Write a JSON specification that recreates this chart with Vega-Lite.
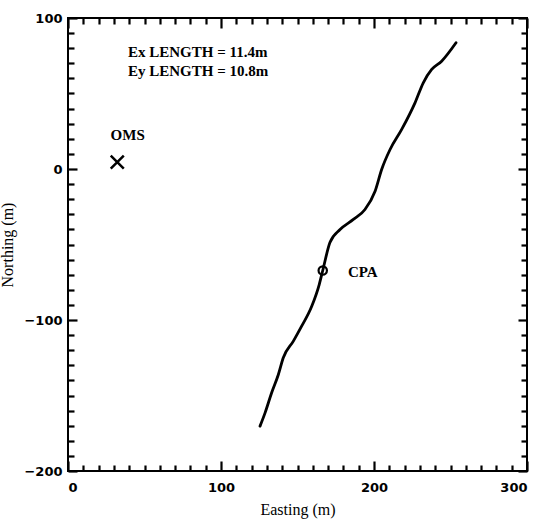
{
  "$schema": "https://vega.github.io/schema/vega-lite/v6.json",
  "width": 459,
  "height": 453,
  "autosize": {"type": "none"},
  "padding": {"left": 68, "top": 18, "right": 15, "bottom": 50},
  "background": "white",
  "config": {
    "view": {"stroke": "black", "strokeWidth": 2},
    "axis": {
      "grid": false,
      "domain": false,
      "tickColor": "black",
      "tickWidth": 2.2,
      "labelFont": "DejaVu Sans",
      "labelFontWeight": "bold",
      "labelFontSize": 13,
      "labelColor": "black",
      "titleFont": "Liberation Serif",
      "titleFontWeight": "normal",
      "titleFontSize": 16,
      "titleColor": "black"
    }
  },
  "layer": [
    {
      "data": {"values": [
        {"i": 1, "e": 125.5, "n": -170.3},
        {"i": 2, "e": 128.8, "n": -161.5},
        {"i": 3, "e": 133.1, "n": -148.2},
        {"i": 4, "e": 137.5, "n": -136.1},
        {"i": 5, "e": 140.7, "n": -125.0},
        {"i": 6, "e": 147.3, "n": -114.0},
        {"i": 7, "e": 152.7, "n": -104.1},
        {"i": 8, "e": 159.3, "n": -90.9},
        {"i": 9, "e": 164.2, "n": -76.5},
        {"i": 10, "e": 166.5, "n": -67.2},
        {"i": 11, "e": 171.2, "n": -48.7},
        {"i": 12, "e": 177.8, "n": -40.1},
        {"i": 13, "e": 186.5, "n": -33.4},
        {"i": 14, "e": 194.1, "n": -26.8},
        {"i": 15, "e": 200.7, "n": -14.7},
        {"i": 16, "e": 205.0, "n": -0.3},
        {"i": 17, "e": 210.5, "n": 12.9},
        {"i": 18, "e": 218.1, "n": 26.2},
        {"i": 19, "e": 226.8, "n": 43.8},
        {"i": 20, "e": 232.2, "n": 57.1},
        {"i": 21, "e": 237.7, "n": 65.9},
        {"i": 22, "e": 244.2, "n": 71.4},
        {"i": 23, "e": 253.6, "n": 83.6}
      ]},
      "mark": {"type": "line", "color": "black", "strokeWidth": 2.8, "strokeCap": "round", "strokeJoin": "round", "interpolate": "monotone"},
      "encoding": {
        "x": {"field": "e", "type": "quantitative",
              "scale": {"domain": [0, 300], "nice": false, "zero": false},
              "axis": {"orient": "bottom", "tickCount": 100,
                       "values": [0,10,20,30,40,50,60,70,80,90,100,110,120,130,140,150,160,170,180,190,200,210,220,230,240,250,260,270,280,290,300],
                       "tickSize": {"condition": {"test": "datum.value % 100 === 0", "value": -10}, "value": -6},
                       "labelExpr": "datum.value % 100 === 0 ? datum.label : ''",
                       "labelPadding": 20, "labelOverlap": false,
                       "title": "Easting (m)", "titlePadding": 3}},
        "y": {"field": "n", "type": "quantitative",
              "scale": {"domain": [-200, 100], "nice": false, "zero": false},
              "axis": {"orient": "left", "tickCount": 100,
                       "values": [-200,-190,-180,-170,-160,-150,-140,-130,-120,-110,-100,-90,-80,-70,-60,-50,-40,-30,-20,-10,0,10,20,30,40,50,60,70,80,90,100],
                       "tickSize": {"condition": {"test": "datum.value % 100 === 0", "value": -9}, "value": -6},
                       "labelExpr": "datum.value % 100 === 0 ? datum.label : ''",
                       "labelPadding": 15, "labelOverlap": false,
                       "title": "Northing (m)", "titlePadding": 8}},
        "order": {"field": "i", "type": "quantitative"}
      }
    },
    {
      "data": {"values": [{"e": 166.5, "n": -67.2}]},
      "mark": {"type": "point", "shape": "circle", "filled": false, "stroke": "black", "strokeWidth": 2.2, "size": 70, "opacity": 1},
      "encoding": {
        "x": {"field": "e", "type": "quantitative",
              "axis": {"orient": "top", "tickCount": 100,
                       "values": [0,10,20,30,40,50,60,70,80,90,100,110,120,130,140,150,160,170,180,190,200,210,220,230,240,250,260,270,280,290,300],
                       "tickSize": {"condition": {"test": "datum.value % 100 === 0", "value": -10}, "value": -6},
                       "labels": false, "title": null}},
        "y": {"field": "n", "type": "quantitative",
              "axis": {"orient": "right", "tickCount": 100,
                       "values": [-200,-190,-180,-170,-160,-150,-140,-130,-120,-110,-100,-90,-80,-70,-60,-50,-40,-30,-20,-10,0,10,20,30,40,50,60,70,80,90,100],
                       "tickSize": {"condition": {"test": "datum.value % 100 === 0", "value": -9}, "value": -6},
                       "labels": false, "title": null}}
      }
    },
    {
      "data": {"values": [{"e": 32.2, "n": 4.5}]},
      "mark": {"type": "point", "shape": "M-1,-1L1,1M1,-1L-1,1", "filled": false, "stroke": "black", "strokeWidth": 2.5, "size": 170, "opacity": 1},
      "encoding": {
        "x": {"field": "e", "type": "quantitative", "axis": null},
        "y": {"field": "n", "type": "quantitative", "axis": null}
      }
    },
    {
      "data": {"values": [
        {"e": 39, "n": 22.8, "label": "OMS", "a": "center"},
        {"e": 183, "n": -68.5, "label": "CPA", "a": "left"},
        {"e": 39.2, "n": 77.8, "label": "Ex LENGTH = 11.4m", "a": "left"},
        {"e": 39.2, "n": 64.6, "label": "Ey LENGTH = 10.8m", "a": "left"}
      ]},
      "mark": {"type": "text", "font": "Liberation Serif", "fontWeight": "bold", "fontSize": 15, "color": "black", "baseline": "middle", "align": {"expr": "datum.a"}},
      "encoding": {
        "x": {"field": "e", "type": "quantitative", "axis": null},
        "y": {"field": "n", "type": "quantitative", "axis": null},
        "text": {"field": "label"}
      }
    }
  ],
  "resolve": {"axis": {"x": "independent", "y": "independent"}}
}
